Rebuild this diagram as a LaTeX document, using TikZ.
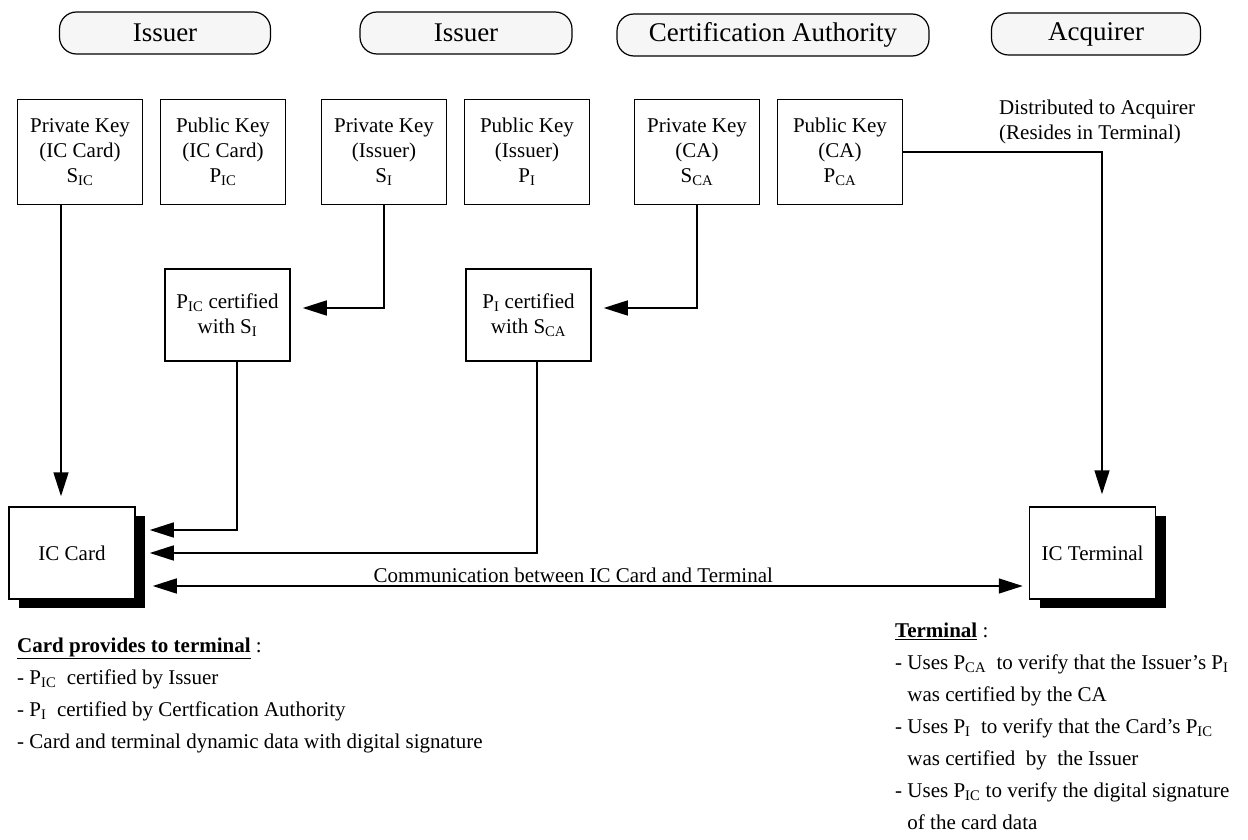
\documentclass[tikz,border=0pt]{standalone}
\usepackage{fontspec}
\setmainfont{Liberation Serif}
\usetikzlibrary{arrows.meta,positioning,shadows}
\newcommand{\ksub}[1]{\textsubscript{#1}}

\begin{document}
\begin{tikzpicture}[x=1pt,y=-1pt,on grid,node distance=143pt,
  bigtri/.tip={Triangle[length=24pt,width=15pt]},
  party/.style={draw,line width=1.2pt,fill=gray!7,rounded corners=17pt,minimum height=42pt,font=\fontsize{27}{30}\selectfont},
  keybox/.style={draw,line width=1.5pt,minimum width=125pt,minimum height=105pt,align=center,font=\fontsize{21}{25}\selectfont},
  certbox/.style={keybox,minimum height=92pt},
  device/.style={draw,line width=1.5pt,fill=white,minimum width=126pt,minimum height=92pt,font=\fontsize{21}{25}\selectfont,drop shadow={shadow xshift=10pt,shadow yshift=-9pt,fill=black,opacity=1}},
  link/.style={line width=1.5pt,-bigtri},
  notes/.style={anchor=north west,align=left,inner sep=0pt,font=\fontsize{21}{32}\selectfont}]
  \useasboundingbox (0,0) rectangle (1248,840);

  % parties
  \node[party,minimum width=211pt] (issA) at (165,33) {Issuer};
  \node[party,minimum width=212pt] (issB) at (466,33) {Issuer};
  \node[party,minimum width=312pt] (ca) at (773,35) {Certification Authority};
  \node[party,minimum width=209pt] (acq) at (1096,34) {Acquirer};

  % keys
  \node[keybox] (SIC) at (80,152) {Private Key\\(IC Card)\\S\ksub{IC}};
  \node[keybox] (PIC) [right=of SIC] {Public Key\\(IC Card)\\P\ksub{IC}};
  \node[keybox] (SI) at (384,152) {Private Key\\(Issuer)\\S\ksub{I}};
  \node[keybox] (PI) [right=of SI] {Public Key\\(Issuer)\\P\ksub{I}};
  \node[keybox] (SCA) at (697,152) {Private Key\\(CA)\\S\ksub{CA}};
  \node[keybox] (PCA) [right=of SCA] {Public Key\\(CA)\\P\ksub{CA}};
  \node[anchor=north west,align=left,inner sep=0pt,font=\fontsize{21}{25}\selectfont] (dist) at (999,100) {Distributed to Acquirer\\(Resides in Terminal)};

  % certificates
  \node[certbox] (PICcert) at (227.5,315) {P\ksub{IC} certified\\with S\ksub{I}};
  \node[certbox] (PIcert) at (528.5,315) {P\ksub{I} certified\\with S\ksub{CA}};

  % card and terminal
  \node[device] (card) at (72,553) {IC Card};
  \node[device] (term) at (1092.5,553) {IC Terminal};

  \draw[link,shorten >=10pt] ([xshift=-19pt]SIC.south) -- ([xshift=-11pt]card.north);
  \draw[link,shorten >=12pt] (SI.south) |- ([yshift=7pt]PICcert.east);
  \draw[link,shorten >=12pt] (SCA.south) |- ([yshift=7pt]PIcert.east);
  \draw[link,shorten >=12pt] (PCA.east) -| ([xshift=9.5pt]term.north);
  \draw[link,shorten >=14pt] ([xshift=9.5pt]PICcert.south) |- ([yshift=23pt]card.east);
  \draw[link,shorten >=14pt] ([xshift=8.5pt]PIcert.south) |- (card.east);
  \draw[line width=1.5pt,bigtri-bigtri,shorten <=17pt,shorten >=6pt] ([yshift=-33pt]card.east) -- node[pos=0.49,above,inner sep=3pt,font=\fontsize{21}{25}\selectfont] (comm) {Communication between IC Card and Terminal} ([yshift=-33pt]term.west);

  % notes
  \node[notes] (cardnote) at (17,638) {\underline{\textbf{Card provides to terminal}} :\\
    - P\ksub{IC}\ \ certified by Issuer\\
    - P\ksub{I}\ \ certified by Certfication Authority\\
    - Card and terminal dynamic data with digital signature};
  \node[notes] (termnote) at (895,623) {\underline{\textbf{Terminal}} :\\
    - Uses P\ksub{CA}\ \ to verify that the Issuer's P\ksub{I}\\
    \phantom{- }was certified by the CA\\
    - Uses P\ksub{I}\ \ to verify that the Card's P\ksub{IC}\\
    \phantom{- }was certified\ \ by\ \ the Issuer\\
    - Uses P\ksub{IC} to verify the digital signature\\
    \phantom{- }of the card data};
\end{tikzpicture}
\end{document}
